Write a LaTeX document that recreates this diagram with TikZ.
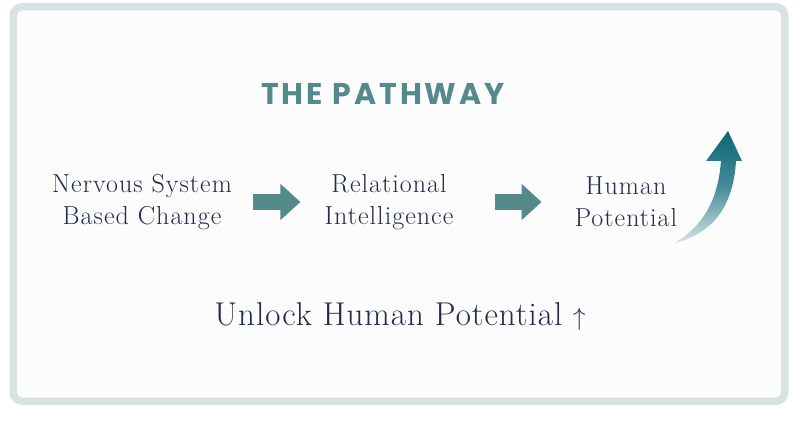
\documentclass[tikz,border=0pt]{standalone}
\usepackage{fontspec}
\setmainfont{Latin Modern Roman}
\newfontfamily\titlefont{Poppins}[LetterSpace=10]
\usetikzlibrary{positioning,arrows.meta}
\definecolor{frameblue}{HTML}{D6E2E4}
\definecolor{paper}{HTML}{FCFCFC}
\definecolor{pathteal}{HTML}{558A8D}
\definecolor{inknavy}{HTML}{212B4B}
\definecolor{deepteal}{HTML}{0B6677}
\definecolor{paleteal}{HTML}{D3E4E9}

\begin{document}
\begin{tikzpicture}[x=1pt,y=-1pt,
    stage/.style={align=center, inner sep=0pt, text=inknavy,
      font=\fontsize{26}{32}\selectfont\addfontfeature{LetterSpace=4}},
    flow/.style={draw=pathteal, line width=16pt, -{Triangle[length=20pt,width=35pt]}}]
  \useasboundingbox (0,0) rectangle (800,430);
  \fill[white] (0,0) rectangle (800,430);
  \draw[draw=frameblue, fill=paper, line width=7.5pt, rounded corners=9pt] (13.25,6.75) rectangle (784.75,401.25);

  \node[text=pathteal, font=\titlefont\bfseries\fontsize{30}{32}\selectfont] (title) at (383,94) {THE PATHWAY};

  \node[stage] (nervous) at (142,202) {Nervous System\\Based Change};
  \node[stage] (relational) at (389,202) {Relational\\Intelligence};
  \node[stage] (human) at (626,202) {Human\\Potential};

  \draw[flow, shorten <=21pt, shorten >=24pt] (nervous.east) -- (relational.west);
  \draw[flow, shorten <=41pt, shorten >=33pt] (relational.east) -- (human.west);

  % rising arrow
  \shade[top color=deepteal, bottom color=paleteal, middle color=deepteal!70!paleteal]
    (675,243) .. controls (703,226) and (718,200) .. (721,161)
    -- (706,161) -- (728,131) -- (742,161) -- (736,161)
    .. controls (733,207) and (713,233) .. (675,243) -- cycle;

  \node[text=inknavy, font=\fontsize{33}{36}\selectfont\addfontfeature{LetterSpace=3}] (unlock) at (400,316) {Unlock Human Potential $\uparrow$};
\end{tikzpicture}
\end{document}
